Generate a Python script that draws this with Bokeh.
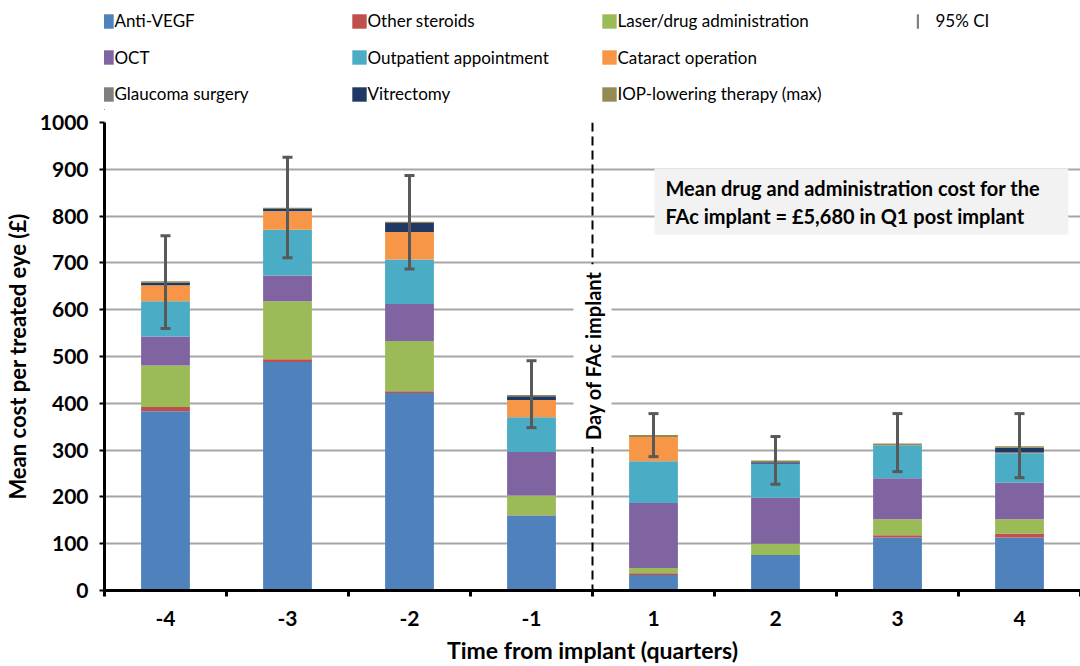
import math
from bokeh.plotting import figure
from bokeh.layouts import column
from bokeh.models import (ColumnDataSource, FixedTicker, Whisker, TeeHead, Span,
                          Label, BoxAnnotation, Legend, LegendItem)
from bokeh.embed import file_html
from bokeh.resources import INLINE

# ---------------- data ----------------
quarters = ["-4", "-3", "-2", "-1", "1", "2", "3", "4"]
anti_vegf = [383, 488, 422, 160, 33, 76, 113, 113]
other_steroids = [9, 6, 4, 1, 4, 0, 5, 9]
laser_drug_admin = [89, 124, 107, 42, 11, 24, 34, 30]
oct_scan = [62, 55, 79, 93, 139, 98, 88, 78]
outpatient = [75, 98, 95, 74, 89, 73, 70, 63]
cataract = [34, 39, 59, 37, 52, 0, 0, 0]
glaucoma = [0, 1, 0, 0, 0, 0, 1, 3]
vitrectomy = [6, 4, 19, 8, 0, 3, 0, 9]
iop_lowering = [3, 3, 3, 3, 4, 4, 3, 3]
ci_lower = [560, 711, 687, 348, 286, 227, 254, 241]
ci_upper = [758, 926, 887, 491, 378, 329, 378, 378]

series_names = ["Anti-VEGF", "Other steroids", "Laser/drug administration", "OCT",
                "Outpatient appointment", "Cataract operation", "Glaucoma surgery",
                "Vitrectomy", "IOP-lowering therapy (max)"]
series_values = [anti_vegf, other_steroids, laser_drug_admin, oct_scan, outpatient,
                 cataract, glaucoma, vitrectomy, iop_lowering]
colors = ["#4F81BD", "#C0504D", "#9BBB59", "#8064A2", "#4BACC6", "#F79646",
          "#7F7F7F", "#1F3864", "#948A54"]

FONT = "Lato"
LEG_H = 110
FRAME_LEFT = 103

xs = list(range(len(quarters)))
data = {"x": xs}
keys = []
for i, vals in enumerate(series_values):
    k = f"s{i}"
    keys.append(k)
    data[k] = vals
src = ColumnDataSource(data)

# ---------------- main chart ----------------
p = figure(width=1080, height=666 - LEG_H, x_range=(-0.5, 7.5), y_range=(0, 1000),
           output_backend="svg", toolbar_location=None,
           min_border_left=FRAME_LEFT, min_border_right=0, min_border_top=122 - LEG_H,
           min_border_bottom=76)
p.outline_line_color = None
p.background_fill_color = "white"
p.xgrid.visible = False
p.ygrid.grid_line_color = "#a6a6a6"
p.ygrid.grid_line_width = 2

renderers = p.vbar_stack(keys, x="x", width=0.4, color=colors, line_color=None, source=src)

# error bars
esrc = ColumnDataSource({"x": xs, "lower": ci_lower, "upper": ci_upper})
ecol = "#595959"
wh = Whisker(base="x", lower="lower", upper="upper", source=esrc,
             line_color=ecol, line_width=3, level="annotation",
             upper_head=TeeHead(size=10, line_color=ecol, line_width=3),
             lower_head=TeeHead(size=10, line_color=ecol, line_width=3))
p.add_layout(wh)

# axes
p.yaxis.ticker = FixedTicker(ticks=list(range(0, 1001, 100)))
p.yaxis.axis_line_width = 3
p.yaxis.axis_line_color = "black"
p.yaxis.major_tick_out = 5
p.yaxis.major_tick_in = 0
p.yaxis.major_tick_line_width = 2
p.yaxis.minor_tick_line_color = None
p.yaxis.major_label_text_font = FONT
p.yaxis.major_label_text_font_style = "bold"
p.yaxis.major_label_text_font_size = "21px"
p.yaxis.major_label_text_color = "black"
p.yaxis.major_label_standoff = 11
p.yaxis.axis_label = "Mean cost per treated eye (£)"
p.yaxis.axis_label_text_font = FONT
p.yaxis.axis_label_text_font_style = "bold"
p.yaxis.axis_label_text_font_size = "22px"
p.yaxis.axis_label_text_color = "black"
p.yaxis.axis_label_standoff = 6

p.xaxis.ticker = FixedTicker(ticks=xs, minor_ticks=[x - 0.5 for x in xs] + [7.5])
p.xaxis.major_label_overrides = {x: q for x, q in zip(xs, quarters)}
p.xaxis.axis_line_width = 3
p.xaxis.axis_line_color = "black"
p.xaxis.major_tick_out = 0
p.xaxis.major_tick_in = 0
p.xaxis.minor_tick_out = 6
p.xaxis.minor_tick_in = 0
p.xaxis.minor_tick_line_color = "black"
p.xaxis.minor_tick_line_width = 3
p.xaxis.major_label_text_font = FONT
p.xaxis.major_label_text_font_style = "bold"
p.xaxis.major_label_text_font_size = "21px"
p.xaxis.major_label_text_color = "black"
p.xaxis.major_label_standoff = 14
p.xaxis.axis_label = "Time from implant (quarters)"
p.xaxis.axis_label_text_font = FONT
p.xaxis.axis_label_text_font_style = "bold"
p.xaxis.axis_label_text_font_size = "23px"
p.xaxis.axis_label_text_color = "black"
p.xaxis.axis_label_standoff = 7

# implant day marker
p.add_layout(Span(location=3.5, dimension="height", line_color="black",
                  line_width=2, line_dash="9 5"))
p.add_layout(Label(x=3.5, y=502, text="Day of FAc implant", angle=math.pi / 2,
                   text_align="center", text_baseline="middle", text_font=FONT,
                   text_font_style="bold", text_font_size="20px", text_color="black",
                   background_fill_color="white", padding=7))

# annotation box
p.add_layout(BoxAnnotation(left=4.008, right=7.40, top=901.7, bottom=760.7,
                           fill_color="#f2f2f2", fill_alpha=1, line_color=None))
p.add_layout(Label(x=4.098, y=885,
                   text="Mean drug and administration cost for the\nFAc implant = £5,680 in Q1 post implant",
                   text_align="left", text_baseline="top", text_font=FONT,
                   text_font_style="bold", text_font_size="20px", text_color="black",
                   text_line_height=1.15))

# ---------------- legend strip ----------------
lf = figure(width=1080, height=LEG_H, x_range=(0, 1080), y_range=(0, LEG_H),
            output_backend="svg", toolbar_location=None,
            min_border_left=0, min_border_right=0, min_border_top=0, min_border_bottom=0)
lf.axis.visible = False
lf.grid.visible = False
lf.outline_line_color = None

# legend-only renderers placed outside the visible range of the strip
leg_rends = [lf.vbar(x=[-500], top=[1], width=1, color=c, line_color=None) for c in colors]
ci_r = lf.vbar(x=[-500], top=[1], width=1, color="#7f7f7f", line_color=None)

col_x = [95.5, 348.5, 598.5]
row_c = [21, 57.5, 94]
order_positions = [(0, 0), (0, 1), (0, 2), (1, 0), (1, 1), (1, 2), (2, 0), (2, 1), (2, 2)]


def make_legend(label, rends, x, yc, gw=18, gh=18, standoff=0):
    return Legend(items=[LegendItem(label=label, renderers=rends)],
                  location=(x - FRAME_LEFT, LEG_H - (yc + 10)),
                  padding=0, margin=0, border_line_color=None, background_fill_alpha=0,
                  label_text_font=FONT, label_text_font_size="17px", label_text_color="black",
                  glyph_width=gw, glyph_height=gh, label_standoff=standoff, label_height=20,
                  spacing=0)


for (row, col), name, r in zip(order_positions, series_names, leg_rends):
    lf.add_layout(make_legend(name, [r], col_x[col], row_c[row]))
lf.add_layout(make_legend("95% CI", [ci_r], 914.5, row_c[0], gw=3, gh=18, standoff=17))

layout = column(lf, p, spacing=0)
open("out.html", "w").write(file_html(layout, INLINE))
